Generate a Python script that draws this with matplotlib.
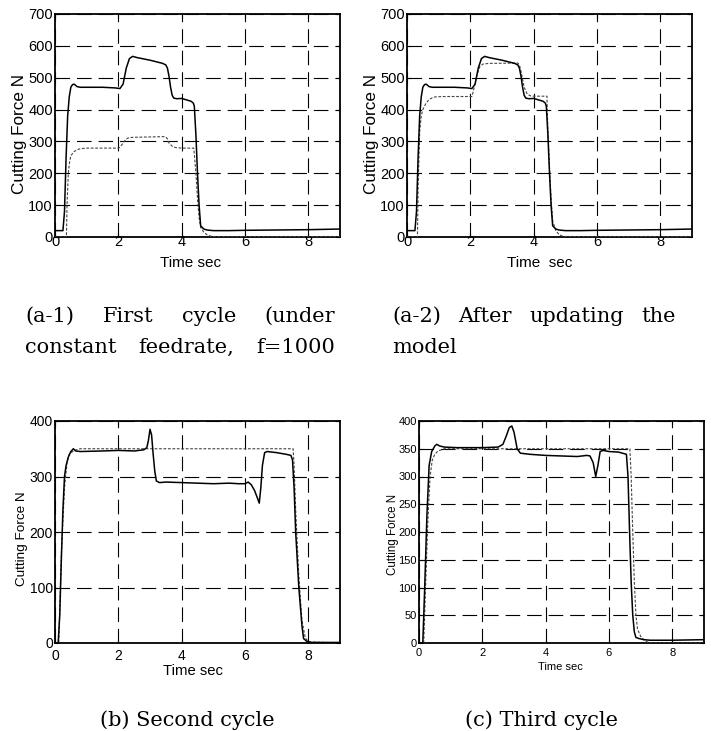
import matplotlib
matplotlib.use("Agg")
import matplotlib.pyplot as plt

plt.rcParams['lines.scale_dashes'] = False
plt.rcParams['font.family'] = ['Liberation Sans', 'DejaVu Sans']

W, H = 711, 731

# ---------------- data ----------------
# measured cutting force, first cycle / after update (same measurement)
a_t = [0, 0.25, 0.30, 0.35, 0.40, 0.45, 0.50, 0.55, 0.60, 0.70, 0.80, 1.0, 1.5, 1.9,
       2.05, 2.15, 2.25, 2.35, 2.45, 2.6, 3.0, 3.4, 3.5, 3.55, 3.6, 3.65, 3.7, 3.75,
       3.85, 4.0, 4.1, 4.3, 4.37, 4.40, 4.45, 4.5, 4.55, 4.6, 4.7, 4.8, 5.0, 5.5, 6.0,
       7.0, 8.0, 9.0]
a_meas = [20, 20, 80, 250, 380, 440, 470, 478, 480, 472, 470, 470, 470, 468,
          466, 480, 530, 560, 567, 563, 555, 545, 540, 530, 505, 470, 445, 436,
          434, 435, 432, 426, 420, 410, 320, 200, 100, 35, 25, 22, 20, 20, 21,
          22, 23, 25]

a1_t = [0, 0.36, 0.38, 0.42, 0.46, 0.5, 0.6, 0.7, 0.8, 1.0, 2.0, 2.05, 2.15, 2.25,
        2.35, 2.5, 3.45, 3.5, 3.55, 3.6, 3.7, 3.8, 4.0, 4.38, 4.4, 4.45, 4.5, 4.55,
        4.6, 4.7, 4.8, 4.9, 5.0, 9.0]
a1_model = [0, 0, 100, 200, 235, 255, 268, 274, 277, 279, 279, 282, 295, 308,
            312, 313, 315, 314, 308, 295, 285, 281, 279, 279, 260, 200, 120, 60,
            30, 15, 7, 3, 1, 1]

a2_t = [0, 0.33, 0.35, 0.40, 0.45, 0.5, 0.6, 0.7, 0.8, 0.9, 1.2, 2.05, 2.1, 2.2,
        2.3, 2.4, 2.6, 3.5, 3.55, 3.6, 3.65, 3.7, 3.8, 3.9, 4.0, 4.42, 4.43, 4.45,
        4.5, 4.55, 4.6, 4.7, 4.8, 4.9, 5.0, 9.0]
a2_model = [0, 0, 150, 330, 380, 400, 420, 432, 437, 440, 441, 441, 460, 505,
            535, 543, 545, 546, 540, 520, 495, 470, 448, 443, 442, 442, 400, 330,
            220, 120, 50, 20, 8, 3, 1, 1]

b_t = [0, 0.10, 0.15, 0.2, 0.25, 0.3, 0.35, 0.42, 0.5, 0.58, 0.65, 0.8, 1.5, 2.0,
       2.5, 2.8, 2.9, 2.95, 3.0, 3.05, 3.1, 3.15, 3.2, 3.3, 3.5, 4.0, 4.5, 5.0, 5.5,
       5.8, 6.0, 6.1, 6.2, 6.3, 6.4, 6.45, 6.5, 6.55, 6.62, 6.7, 7.0, 7.3, 7.45,
       7.5, 7.55, 7.6, 7.7, 7.8, 7.85, 7.95, 8.1, 9.0]
b_meas = [0, 0, 50, 150, 240, 300, 320, 335, 345, 350, 346, 345, 346, 347,
          346, 348, 352, 365, 385, 375, 340, 310, 292, 289, 290, 289, 288, 287, 288,
          287, 287, 290, 285, 275, 260, 252, 280, 320, 343, 345, 343, 340, 338,
          330, 280, 200, 100, 30, 8, 3, 1, 1]
b_mt = [0, 0.12, 0.2, 0.3, 0.38, 0.45, 0.6, 0.8, 1.0, 7.52, 7.55, 7.6, 7.7, 7.8,
        7.9, 8.0, 9.0]
b_model = [0, 0, 160, 280, 325, 340, 347, 350, 350, 350, 320, 240, 120, 40,
           10, 2, 0]

c_t = [0, 0.12, 0.18, 0.25, 0.32, 0.4, 0.5, 0.56, 0.65, 0.8, 1.2, 2.0, 2.5, 2.65,
       2.75, 2.85, 2.93, 3.0, 3.1, 3.2, 3.5, 4.0, 4.5, 5.0, 5.3, 5.4, 5.5, 5.58,
       5.65, 5.72, 5.82, 6.0, 6.3, 6.55, 6.6, 6.65, 6.7, 6.75, 6.8, 6.85, 6.95,
       7.1, 7.3, 8.0, 9.0]
c_meas = [0, 0, 100, 230, 320, 345, 355, 358, 355, 353, 352, 352, 353, 358,
          372, 388, 391, 380, 350, 342, 340, 338, 337, 336, 338, 337, 325, 300,
          320, 345, 347, 345, 344, 340, 300, 200, 110, 50, 20, 10, 8, 6, 5, 5, 6]
c_mt = [0, 0.15, 0.2, 0.28, 0.35, 0.42, 0.5, 0.6, 0.8, 1.0, 6.66, 6.7, 6.75, 6.8,
        6.85, 6.9, 7.0, 7.1, 7.2, 7.3, 9.0]
c_model = [0, 0, 90, 220, 300, 330, 340, 346, 350, 350, 350, 300, 200, 110,
           50, 25, 12, 6, 2, 0, 0]

x_ticks = [0, 2, 4, 6, 8]
a_yticks = [0, 100, 200, 300, 400, 500, 600, 700]
b_yticks = [0, 100, 200, 300, 400]
c_yticks = [0, 50, 100, 150, 200, 250, 300, 350, 400]

ylabel = "Cutting Force N"

# ---------------- figure ----------------
fig = plt.figure(figsize=(W / 100, H / 100), dpi=100)


def px_axes(l, t, r, b):
    return fig.add_axes([l / W, 1 - b / H, (r - l) / W, (b - t) / H])


def style(ax, yticks, ymax, tsize, xpad, ylsize, xlsize, ylab_x, ylab_y,
          xlab_x, xlab_y, xlabel):
    ax.set_xlim(0, 9)
    ax.set_ylim(0, ymax)
    ax.set_xticks(x_ticks)
    ax.set_yticks(yticks)
    ax.tick_params(direction='in', length=3, width=0.8, top=True, right=True,
                   labelsize=tsize, colors='black')
    ax.tick_params(axis='x', pad=xpad)
    ax.tick_params(axis='y', pad=1.5)
    for s in ax.spines.values():
        s.set_linewidth(1.3)
        s.set_color('black')
    ax.grid(True, color='black', linewidth=0.8, linestyle=(0, (10.5, 5)))
    ax.set_axisbelow(False)
    ax.set_ylabel(ylabel, fontsize=ylsize)
    ax.yaxis.set_label_coords(ylab_x, ylab_y)
    ax.yaxis.label.set_va('center')
    ax.set_xlabel(xlabel, fontsize=xlsize)
    ax.xaxis.set_label_coords(xlab_x, xlab_y)
    ax.xaxis.label.set_va('center')


solid_kw = dict(color='black', linewidth=1.1, zorder=3)
model_kw = dict(color='#444444', linewidth=0.8, linestyle=(0, (2, 1.2)), zorder=3)

ax1 = px_axes(55, 14, 340, 237)
ax1.plot(a1_t, a1_model, **model_kw)
ax1.plot(a_t, a_meas, **solid_kw)
style(ax1, a_yticks, 700, 10.5, -1.5, 12.3, 11, -0.123, 0.46, 0.477, -0.115, "Time sec")

ax2 = px_axes(407, 14, 692, 237)
ax2.plot(a2_t, a2_model, **model_kw)
ax2.plot(a_t, a_meas, **solid_kw)
style(ax2, a_yticks, 700, 10.5, -1.5, 12.3, 11, -0.123, 0.46, 0.467, -0.115, "Time  sec")

ax3 = px_axes(55, 421, 340, 643)
ax3.plot(b_mt, b_model, **model_kw)
ax3.plot(b_t, b_meas, **solid_kw)
style(ax3, b_yticks, 400, 10, 4, 9.7, 10.7, -0.116, 0.47, 0.484, -0.125, "Time sec")

ax4 = px_axes(419, 421, 704, 643)
ax4.plot(c_mt, c_model, **model_kw)
ax4.plot(c_t, c_meas, **solid_kw)
style(ax4, c_yticks, 400, 8, 3.5, 8.3, 8, -0.09, 0.49, 0.498, -0.106, "Time sec")

# ---------------- captions ----------------
cap_font = dict(family='DejaVu Serif', fontsize=15, color='black', va='baseline')
renderer = fig.canvas.get_renderer()


def justify(words, x0, x1, ybase):
    texts = [fig.text(0, 1 - ybase / H, w, ha='left', **cap_font) for w in words]
    widths = [t.get_window_extent(renderer).width for t in texts]
    if len(words) == 1:
        texts[0].set_x(x0 / W)
        return
    gap = (x1 - x0 - sum(widths)) / (len(words) - 1)
    x = x0
    for t, w in zip(texts, widths):
        t.set_x(x / W)
        x += w + gap


justify(["(a-1)", "First", "cycle", "(under"], 25, 335, 322)
justify(["constant", "feedrate,", "f=1000"], 25, 335, 353)
justify(["(a-2)", "After", "updating", "the"], 392, 676, 322)
justify(["model"], 392, 460, 353)
fig.text(100 / W, 1 - 726 / H, "(b) Second cycle", ha='left', **cap_font)
fig.text(465 / W, 1 - 726 / H, "(c) Third cycle", ha='left', **cap_font)

fig.savefig("out.png", dpi=100)
